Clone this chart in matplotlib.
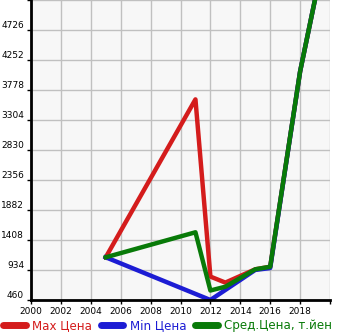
import matplotlib.pyplot as plt

# data
years_max = [2005, 2011, 2012, 2013, 2015, 2016, 2018, 2019]
max_price = [1135, 3630, 830, 735, 945, 985, 4070, 5210]

years_min = [2005, 2012, 2015, 2016, 2018, 2019]
min_price = [1135, 460, 935, 965, 4070, 5210]

years_avg = [2005, 2011, 2012, 2013, 2015, 2016, 2018, 2019]
avg_price = [1135, 1530, 610, 670, 945, 985, 4070, 5210]

y_ticks = [460, 934, 1408, 1882, 2356, 2830, 3304, 3778, 4252, 4726, 5200]
x_ticks = list(range(2000, 2021, 2))
x_labels = [str(y) for y in range(2000, 2019, 2)] + [""]
y_labels = [str(v) for v in y_ticks[:-1]] + [""]

fig = plt.figure(figsize=(3.45, 3.35), dpi=100)
ax = fig.add_axes([31 / 345, 35 / 335, 299 / 345, 300 / 335])
ax.set_facecolor("#f7f7f7")

ax.plot(years_max, max_price, color="#d41c1c", lw=3.2, label="Max Цена")
ax.plot(years_min, min_price, color="#1c1cd4", lw=3.2, label="Min Цена")
ax.plot(years_avg, avg_price, color="#087a08", lw=3.2, label="Сред.Цена, т.йен")

ax.set_xlim(2000, 2020)
ax.set_ylim(460, 5200)
ax.set_xticks(x_ticks)
ax.set_xticklabels(x_labels, fontsize=6.5)
ax.set_yticks(y_ticks)
ax.set_yticklabels(y_labels, fontsize=6.5, va="bottom")
ax.grid(True, color="#c0c0c0", lw=1)
ax.set_axisbelow(True)

for s in ["top", "right"]:
    ax.spines[s].set_visible(False)
ax.spines["left"].set_linewidth(2)
ax.spines["bottom"].set_linewidth(2)
ax.tick_params(axis="both", length=3, width=1, pad=2, colors="black")

leg = fig.legend(loc="lower left", bbox_to_anchor=(-0.005, -0.005), ncol=3, frameon=False,
                 fontsize=8.6, handlelength=1.9, handletextpad=0.55, columnspacing=0.7,
                 borderaxespad=0)
for line, txt in zip(leg.get_lines(), leg.get_texts()):
    line.set_linewidth(5)
    line.set_solid_capstyle("round")
    txt.set_color(line.get_color())

fig.savefig("out.png", dpi=100)
